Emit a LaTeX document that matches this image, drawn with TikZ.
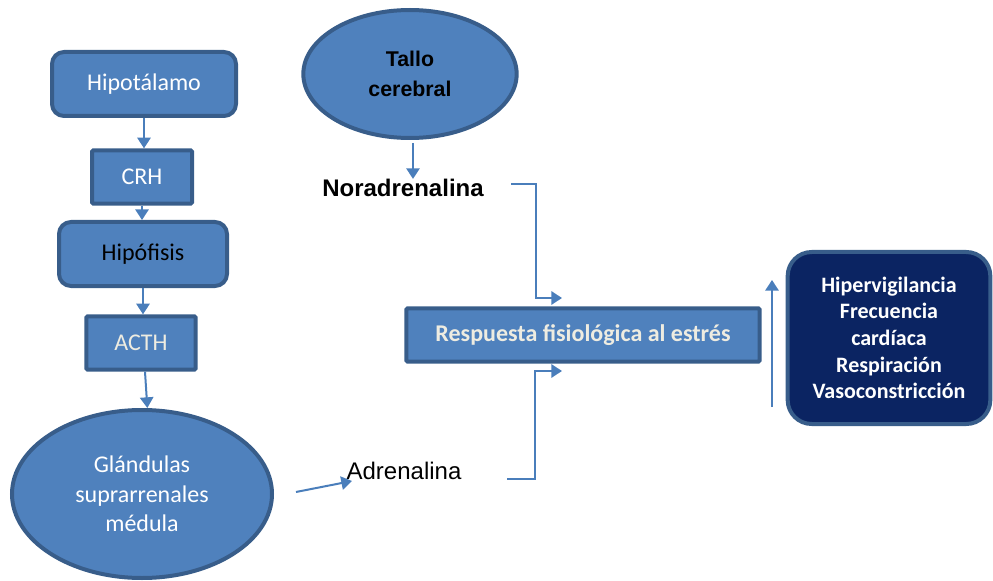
\documentclass[tikz,border=0pt]{standalone}
\usepackage{fontspec}
\setmainfont{Carlito}
\newfontfamily\arialfont{Liberation Sans}
\usetikzlibrary{shapes.geometric,arrows.meta}

\definecolor{boxblue}{HTML}{4F81BD}
\definecolor{boxedge}{HTML}{385D8A}
\definecolor{linkblue}{HTML}{4A7EBB}
\definecolor{navyfill}{HTML}{0B2462}
\definecolor{paletext}{HTML}{EEECE1}

\tikzset{
    organ/.style={draw=boxedge, line width=3pt, fill=boxblue, rounded corners=9pt,
        minimum width=138pt, minimum height=48pt, inner sep=0pt,
        font=\fontsize{18}{22}\selectfont},
    hormone/.style={draw=boxedge, line width=3pt, fill=boxblue, rounded corners=1pt,
        minimum height=40pt, inner sep=0pt, font=\fontsize{18}{22}\selectfont},
    blob/.style={ellipse, draw=boxedge, line width=3pt, fill=boxblue, inner sep=0pt,
        align=center},
    link/.style={draw=linkblue, line width=1.5pt, -{Triangle[length=8pt,width=10pt]}},
}

\begin{document}
\begin{tikzpicture}[x=0.75pt, y=-0.75pt]
    \useasboundingbox (0,0) rectangle (993,581);

    % Left column: hypothalamus axis
    \node[organ, text=white] (hipo) at (144,84) {Hipotálamo};
    \node[hormone, text=white, minimum width=75pt] (crh) at (142,177) {CRH};
    \node[organ, minimum width=126pt] (hipof) at (143,254) {Hipófisis};
    \node[hormone, text=paletext, minimum width=82pt] (acth) at (141,343) {ACTH};
    \node[blob, text=white, minimum width=195pt, minimum height=126pt,
        font=\fontsize{18}{22}\selectfont] (glan) at (142,494)
        {Glándulas\\suprarrenales\\médula};

    \draw[link] (hipo.south) -- (hipo.south |- crh.north);
    \draw[link] (crh.south) -- (crh.south |- hipof.north);
    \draw[link] (hipof.south) -- (hipof.south |- acth.north);
    \draw[link] ([xshift=3pt]acth.south) -- ([xshift=4pt]glan.north);

    % Brain stem and its messenger
    \node[blob, minimum width=160pt, minimum height=96pt,
        font=\arialfont\bfseries\fontsize{16}{22}\selectfont] (tallo) at (410,74)
        {Tallo\\cerebral};
    \node[font=\arialfont\bfseries\fontsize{18}{22}\selectfont, inner sep=0pt]
        (nor) at (403,188) {Noradrenalina};
    \coordinate (tallout) at (413,143);
    \draw[link] (tallout) -- (tallout |- nor.north);

    % Central response
    \node[hormone, minimum width=265pt, text=paletext,
        font=\bfseries\fontsize{18}{22}\selectfont] (resp) at (583,335)
        {Respuesta fisiológica al estrés};

    \node[font=\arialfont\fontsize{18}{22}\selectfont, inner sep=0pt]
        (adr) at (404,471) {Adrenalina};

    \coordinate (norout) at (511,184);
    \coordinate (respin1) at (562,298);
    \coordinate (adrout) at (507,479);
    \coordinate (respin2) at (562,371);
    \coordinate (glanout) at (296,492);
    \coordinate (adrin) at (352,481);
    \draw[link] (norout) -| (536,298) -- (respin1);
    \draw[link] (adrout) -| (535,371) -- (respin2);
    \draw[link] (glanout) -- (adrin);

    % Effects
    \node[draw=boxedge, line width=3pt, fill=navyfill, rounded corners=18pt,
        minimum width=152pt, minimum height=129pt, text=white, align=center,
        font=\bfseries\fontsize{16.5}{20}\selectfont] (efec) at (889,338)
        {Hipervigilancia\\Frecuencia\\cardíaca\\Respiración\\Vasoconstricción};

    \coordinate (upfrom) at (772,407);
    \coordinate (upto) at (772,280);
    \draw[link] (upfrom) -- (upto);

\end{tikzpicture}
\end{document}
